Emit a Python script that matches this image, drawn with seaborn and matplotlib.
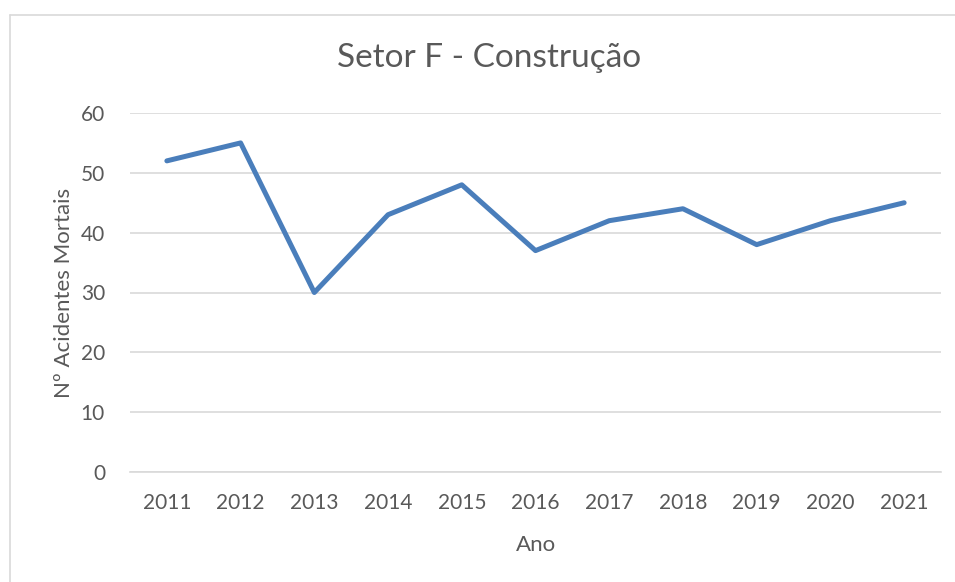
import matplotlib
matplotlib.use("Agg")
import matplotlib.pyplot as plt
import seaborn as sns
import pandas as pd
from matplotlib.lines import Line2D

anos = ["2011", "2012", "2013", "2014", "2015", "2016", "2017", "2018", "2019", "2020", "2021"]
acidentes = [52, 55, 30, 43, 48, 37, 42, 44, 38, 42, 45]
yticks = [0, 10, 20, 30, 40, 50, 60]

sns.set_theme(style="white")
plt.rcParams['font.family'] = ['Lato', 'DejaVu Sans']

df = pd.DataFrame({"Ano": anos, "Acidentes": acidentes})

fig = plt.figure(figsize=(9.55, 5.82), dpi=100)
ax = fig.add_axes([130/955, 1-472/582, (941-130)/955, (472-113)/582])

sns.lineplot(data=df, x="Ano", y="Acidentes", ax=ax, color="#4A7EBB", linewidth=3.6, sort=False)

ax.set_xlim(-0.5, len(anos)-0.5)
ax.set_ylim(0, 60)
ax.set_yticks(yticks)
ax.yaxis.grid(True, color="#D9D9D9", linewidth=1.2)
ax.set_axisbelow(True)
for s in ["top", "right", "left"]:
    ax.spines[s].set_visible(False)
ax.spines["bottom"].set_color("#D9D9D9")
ax.spines["bottom"].set_linewidth(1.2)
ax.tick_params(axis="both", length=0, labelsize=15, labelcolor="#595959")
ax.tick_params(axis="x", pad=15)
ax.tick_params(axis="y", pad=18)

ax.set_xlabel("Ano", fontsize=16, color="#595959", labelpad=16)
ax.set_ylabel("Nº Acidentes Mortais", fontsize=16, color="#595959", labelpad=5)

fig.text(489/955, 1-58/582, "Setor F - Construção", fontsize=24, color="#595959",
         ha="center", va="center")

# chart border
fig.add_artist(Line2D([9.5/955, 9.5/955], [0, 1-14.5/582], transform=fig.transFigure, color="#D9D9D9", linewidth=1.2))
fig.add_artist(Line2D([9.5/955, 1], [1-14.5/582, 1-14.5/582], transform=fig.transFigure, color="#D9D9D9", linewidth=1.2))

fig.savefig("out.png", dpi=100, facecolor="white")
